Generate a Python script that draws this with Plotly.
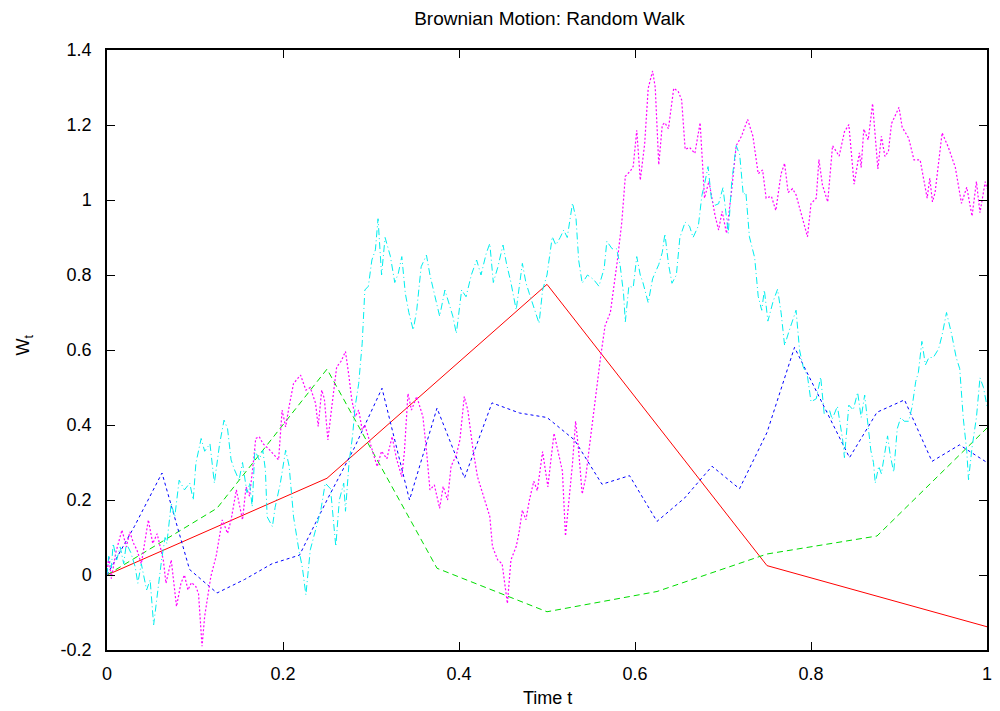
import plotly.graph_objects as go

# ---------------- data ----------------
red_t = [0, 0.25, 0.5, 0.75, 1.0]
red_w = [0, 0.258, 0.775, 0.025, -0.138]

green_t = [0, 0.125, 0.25, 0.375, 0.5, 0.625, 0.75, 0.875, 1.0]
green_w = [0, 0.178, 0.549, 0.018, -0.098, -0.044, 0.056, 0.104, 0.392]

blue_t = [0, 0.03125, 0.0625, 0.09375, 0.125, 0.15625, 0.1875, 0.21875,
          0.25, 0.28125, 0.3125, 0.34375, 0.375, 0.40625, 0.4375, 0.46875,
          0.5, 0.53125, 0.5625, 0.59375, 0.625, 0.65625, 0.6875, 0.71875,
          0.75, 0.78125, 0.8125, 0.84375, 0.875, 0.90625, 0.9375, 0.96875, 1.0]
blue_w = [0, 0.13, 0.272, 0.015, -0.048, -0.012, 0.03, 0.053,
          0.2, 0.34, 0.498, 0.2, 0.445, 0.259, 0.459, 0.432,
          0.42, 0.36, 0.242, 0.265, 0.143, 0.205, 0.29, 0.23,
          0.38, 0.607, 0.46, 0.313, 0.434, 0.467, 0.303, 0.347, 0.3]

magenta_t = [0, 0.002, 0.005, 0.010, 0.017, 0.022, 0.026, 0.030, 0.034, 0.039,
             0.047, 0.052, 0.057, 0.064, 0.067, 0.073, 0.079, 0.084, 0.088, 0.092,
             0.096, 0.101, 0.104, 0.108, 0.111, 0.113, 0.118, 0.124, 0.131, 0.137,
             0.141, 0.147, 0.154, 0.158, 0.162, 0.167, 0.169, 0.173, 0.177, 0.185,
             0.195, 0.199, 0.203, 0.207, 0.212, 0.220, 0.226, 0.231, 0.237, 0.240,
             0.244, 0.247, 0.251, 0.255, 0.261, 0.266, 0.271, 0.275, 0.278, 0.282,
             0.286, 0.290, 0.293, 0.298, 0.307, 0.312, 0.318, 0.324, 0.329, 0.335,
             0.338, 0.342, 0.346, 0.352, 0.355, 0.359, 0.363, 0.367, 0.372, 0.378,
             0.382, 0.387, 0.391, 0.397, 0.401, 0.406, 0.410, 0.416, 0.421, 0.427,
             0.431, 0.435, 0.438, 0.444, 0.449, 0.455, 0.459, 0.465, 0.468, 0.472,
             0.476, 0.480, 0.485, 0.489, 0.495, 0.501, 0.504, 0.508, 0.5175, 0.521,
             0.525, 0.529, 0.5325, 0.536, 0.540, 0.544, 0.548, 0.551, 0.556, 0.561,
             0.566, 0.572, 0.580, 0.585, 0.589, 0.595, 0.598, 0.602, 0.606, 0.611,
             0.615, 0.620, 0.623, 0.627, 0.631, 0.634, 0.638, 0.644, 0.649, 0.653,
             0.657, 0.662, 0.668, 0.674, 0.679, 0.684, 0.691, 0.695, 0.699, 0.704,
             0.710, 0.715, 0.721, 0.728, 0.734, 0.740, 0.745, 0.749, 0.755, 0.760,
             0.766, 0.770, 0.774, 0.779, 0.783, 0.789, 0.796, 0.800, 0.806, 0.809,
             0.813, 0.819, 0.8245, 0.832, 0.838, 0.843, 0.849, 0.855, 0.857, 0.860,
             0.865, 0.870, 0.873, 0.876, 0.880, 0.884, 0.888, 0.8915, 0.900, 0.9036,
             0.911, 0.917, 0.924, 0.928, 0.932, 0.935, 0.938, 0.941, 0.949, 0.956,
             0.964, 0.971, 0.977, 0.983, 0.988, 0.992, 0.998, 1.0]
magenta_w = [0, 0.05, -0.01, 0.06, 0.12, 0.075, 0.115, 0.085, 0.067, 0.03,
             0.147, 0.084, 0.11, 0.04, -0.022, 0.04, -0.084, -0.022, 0.0, -0.04,
             -0.02, -0.031, -0.05, -0.19, -0.11, -0.08, -0.004, 0.05, 0.147, 0.111,
             0.147, 0.227, 0.147, 0.235, 0.21, 0.315, 0.364, 0.369, 0.351, 0.333,
             0.307, 0.44, 0.395, 0.45, 0.511, 0.533, 0.493, 0.5, 0.458, 0.396,
             0.493, 0.47, 0.36, 0.44, 0.555, 0.57, 0.596, 0.529, 0.47, 0.422,
             0.44, 0.387, 0.4, 0.36, 0.289, 0.33, 0.31, 0.369, 0.31, 0.262,
             0.33, 0.484, 0.44, 0.476, 0.45, 0.422, 0.333, 0.227, 0.24, 0.178,
             0.236, 0.2, 0.29, 0.32, 0.36, 0.476, 0.44, 0.333, 0.262, 0.218,
             0.19, 0.156, 0.076, 0.04, 0.03, -0.076, 0.04, 0.076, 0.11, 0.173,
             0.147, 0.2, 0.25, 0.225, 0.329, 0.235, 0.298, 0.378, 0.277, 0.104,
             0.2, 0.298, 0.41, 0.33, 0.216, 0.26, 0.339, 0.395, 0.5, 0.583,
             0.665, 0.7, 0.839, 0.941, 1.063, 1.078, 1.09, 1.186, 1.053, 1.15,
             1.298, 1.344, 1.3, 1.094, 1.2, 1.206, 1.19, 1.298, 1.29, 1.267,
             1.135, 1.14, 1.124, 1.206, 1.005, 1.05, 0.958, 0.92, 0.97, 0.911,
             1.03, 1.145, 1.17, 1.215, 1.17, 1.07, 1.08, 1.005, 1.01, 0.972,
             1.07, 1.098, 1.02, 1.03, 1.014, 0.96, 0.902, 0.99, 1.005, 1.108,
             1.04, 0.995, 1.145, 1.117, 1.182, 1.201, 1.042, 1.126, 1.087, 1.189,
             1.16, 1.257, 1.17, 1.083, 1.17, 1.116, 1.13, 1.204, 1.247, 1.194,
             1.165, 1.107, 1.107, 1.058, 1.005, 1.058, 0.995, 1.02, 1.179, 1.141,
             1.087, 0.991, 1.034, 0.957, 1.049, 0.966, 1.049, 1.03]

cyan_t = [0, 0.002, 0.005, 0.007, 0.011, 0.015, 0.019, 0.022, 0.027, 0.032,
          0.035, 0.039, 0.045, 0.049, 0.053, 0.058, 0.062, 0.066, 0.068, 0.073,
          0.077, 0.082, 0.088, 0.094, 0.098, 0.101, 0.107, 0.111, 0.117, 0.122,
          0.128, 0.133, 0.137, 0.141, 0.145, 0.150, 0.154, 0.159, 0.162, 0.165,
          0.168, 0.173, 0.177, 0.180, 0.182, 0.188, 0.191, 0.197, 0.203, 0.207,
          0.212, 0.218, 0.222, 0.226, 0.231, 0.237, 0.243, 0.248, 0.254, 0.260,
          0.264, 0.269, 0.271, 0.275, 0.279, 0.282, 0.286, 0.290, 0.293, 0.297,
          0.301, 0.305, 0.308, 0.312, 0.316, 0.322, 0.327, 0.331, 0.335, 0.339,
          0.343, 0.348, 0.352, 0.357, 0.363, 0.367, 0.371, 0.375, 0.378, 0.384,
          0.389, 0.393, 0.397, 0.403, 0.408, 0.414, 0.420, 0.425, 0.431, 0.435,
          0.439, 0.444, 0.450, 0.454, 0.459, 0.465, 0.472, 0.476, 0.480, 0.486,
          0.491, 0.495, 0.500, 0.506, 0.510, 0.515, 0.519, 0.523, 0.529, 0.533,
          0.536, 0.540, 0.546, 0.553, 0.559, 0.565, 0.568, 0.574, 0.579, 0.583,
          0.587, 0.589, 0.593, 0.598, 0.602, 0.606, 0.609, 0.615, 0.620, 0.627,
          0.631, 0.634, 0.638, 0.642, 0.647, 0.651, 0.657, 0.662, 0.666, 0.672,
          0.676, 0.679, 0.683, 0.687, 0.691, 0.695, 0.700, 0.706, 0.710, 0.715,
          0.719, 0.723, 0.726, 0.730, 0.736, 0.740, 0.744, 0.747, 0.751, 0.757,
          0.762, 0.766, 0.770, 0.775, 0.779, 0.783, 0.787, 0.791, 0.796, 0.800,
          0.806, 0.811, 0.815, 0.821, 0.824, 0.830, 0.836, 0.838, 0.843, 0.848,
          0.853, 0.857, 0.861, 0.864, 0.868, 0.871, 0.873, 0.877, 0.880, 0.887,
          0.890, 0.894, 0.898, 0.902, 0.906, 0.911, 0.915, 0.919, 0.922, 0.926,
          0.930, 0.934, 0.939, 0.945, 0.949, 0.954, 0.960, 0.965, 0.969, 0.973,
          0.977, 0.979, 0.983, 0.988, 0.992, 0.996, 1.0]
cyan_w = [0, 0.05, 0.02, 0.084, 0.04, 0.075, 0.03, 0.084, 0.06, 0.022,
          -0.022, 0.03, -0.04, -0.013, -0.133, -0.031, 0.04, 0.1, 0.084, 0.191,
          0.155, 0.253, 0.227, 0.245, 0.2, 0.298, 0.364, 0.33, 0.35, 0.245,
          0.35, 0.413, 0.39, 0.307, 0.28, 0.253, 0.3, 0.22, 0.245, 0.182,
          0.333, 0.307, 0.333, 0.28, 0.155, 0.129, 0.18, 0.245, 0.333, 0.29,
          0.155, 0.067, 0.02, -0.053, 0.067, 0.12, 0.173, 0.245, 0.23, 0.076,
          0.2, 0.245, 0.17, 0.298, 0.37, 0.449, 0.51, 0.618, 0.76, 0.77,
          0.84, 0.867, 0.95, 0.8, 0.9, 0.85, 0.78, 0.804, 0.849, 0.751,
          0.7, 0.653, 0.707, 0.822, 0.853, 0.8, 0.76, 0.72, 0.69, 0.76,
          0.72, 0.69, 0.644, 0.76, 0.742, 0.8, 0.84, 0.8, 0.858, 0.884,
          0.78, 0.82, 0.88, 0.83, 0.78, 0.707, 0.831, 0.78, 0.75, 0.71,
          0.671, 0.76, 0.8, 0.902, 0.88, 0.9, 0.92, 0.9, 0.992, 0.95,
          0.839, 0.778, 0.8, 0.788, 0.77, 0.818, 0.89, 0.87, 0.87, 0.828,
          0.75, 0.675, 0.77, 0.767, 0.849, 0.8, 0.78, 0.726, 0.79, 0.828,
          0.86, 0.91, 0.83, 0.778, 0.8, 0.9, 0.941, 0.93, 0.9, 0.931,
          1.012, 1.042, 1.089, 1.0, 0.986, 0.99, 1.033, 0.911, 1.05, 1.145,
          1.12, 1.014, 1.02, 0.902, 0.846, 0.743, 0.706, 0.76, 0.677, 0.73,
          0.762, 0.7, 0.612, 0.65, 0.677, 0.706, 0.6, 0.556, 0.53, 0.462,
          0.47, 0.528, 0.43, 0.44, 0.415, 0.45, 0.36, 0.313, 0.453, 0.44,
          0.487, 0.42, 0.48, 0.41, 0.332, 0.3, 0.245, 0.29, 0.27, 0.371,
          0.32, 0.274, 0.39, 0.42, 0.41, 0.41, 0.45, 0.516, 0.54, 0.623,
          0.56, 0.58, 0.58, 0.603, 0.64, 0.7, 0.64, 0.58, 0.55, 0.419,
          0.33, 0.254, 0.34, 0.42, 0.526, 0.5, 0.45]

x_tickvals = [0, 0.2, 0.4, 0.6, 0.8, 1.0]
x_ticktext = ["0", "0.2", "0.4", "0.6", "0.8", "1"]
y_tickvals = [-0.2, 0, 0.2, 0.4, 0.6, 0.8, 1.0, 1.2, 1.4]
y_ticktext = ["-0.2", "0", "0.2", "0.4", "0.6", "0.8", "1", "1.2", "1.4"]

title_text = "Brownian Motion: Random Walk"
x_title = "Time t"
y_title = "W<sub>t</sub>"

# ---------------- figure ----------------
FONT = "Liberation Sans, Arial, sans-serif"
fig = go.Figure()

series = [
    (red_t, red_w, "#ff0000", "solid", 1),
    (green_t, green_w, "#00dd00", "6px,4px", 1),
    (blue_t, blue_w, "#0000ff", "3px,3px", 1),
    (magenta_t, magenta_w, "#ff00ff", "2px,2px", 1.2),
    (cyan_t, cyan_w, "#00eeee", "7px,3px,1px,3px", 1),
]
for t, w, col, dash, lw in series:
    fig.add_trace(go.Scatter(x=t, y=w, mode="lines",
                             line=dict(color=col, width=lw, dash=dash),
                             showlegend=False, hoverinfo="skip"))

axis_common = dict(
    showgrid=False, zeroline=False, showline=True, linecolor="black",
    linewidth=1.5, mirror="allticks", ticks="inside", ticklen=8,
    tickcolor="black", tickwidth=1,
    tickfont=dict(family=FONT, size=18, color="black"),
)
fig.update_xaxes(range=[0, 1], tickvals=x_tickvals, ticktext=x_ticktext,
                 ticklabelstandoff=7, **axis_common)
fig.update_yaxes(range=[-0.2, 1.4], tickvals=y_tickvals, ticktext=y_ticktext,
                 ticklabelstandoff=10, **axis_common)

fig.update_layout(
    width=1000, height=711,
    margin=dict(l=107, r=8, t=50, b=61),
    paper_bgcolor="white", plot_bgcolor="white",
    title=dict(text=title_text, x=0.5495, xanchor="center",
               y=1 - 18.5 / 711, yanchor="middle",
               font=dict(family=FONT, size=19, color="black")),
    annotations=[
        dict(text=x_title, xref="paper", yref="paper", x=0.5, y=-0.08,
             xanchor="center", yanchor="middle", showarrow=False,
             font=dict(family=FONT, size=18, color="black")),
        dict(text=y_title, xref="paper", yref="paper", x=-0.094, y=0.508,
             xanchor="center", yanchor="middle", showarrow=False,
             textangle=-90, font=dict(family=FONT, size=18, color="black")),
    ],
)

fig.write_html("out.html", config={"displayModeBar": False},
               post_script="document.body.style.margin='0';document.body.style.overflow='hidden';")
